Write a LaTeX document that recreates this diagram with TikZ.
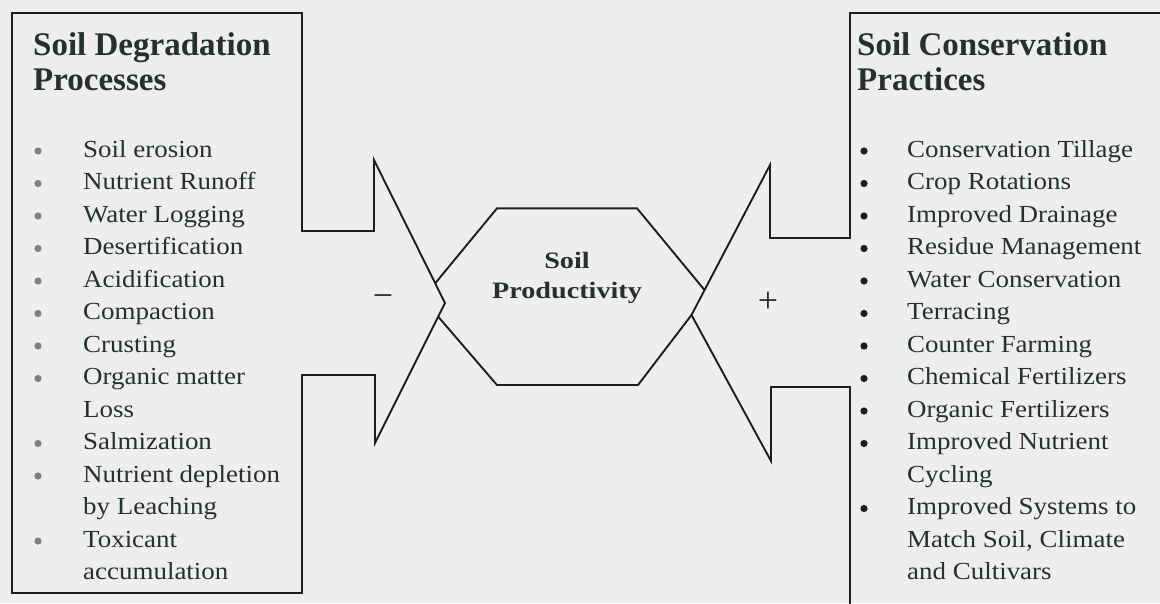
\documentclass[tikz,border=0pt]{standalone}
\usepackage{fontspec}
\setmainfont{Liberation Serif}
\newfontfamily\itemfam[FakeStretch=1.1]{Liberation Serif}
\newfontfamily\centerfam[FakeStretch=1.2]{Liberation Serif}
\definecolor{bgc}{HTML}{EEEEEE}
\definecolor{inkc}{HTML}{1E1E1E}
\definecolor{txtc}{HTML}{263030}
\definecolor{gbul}{HTML}{808080}
\tikzset{
  outline/.style={draw=inkc, line width=1.9pt, line join=miter},
  titletext/.style={anchor=base west, inner sep=0pt, text=txtc, font=\fontsize{33}{36}\selectfont\bfseries},
  itemtext/.style={anchor=base west, inner sep=0pt, text=txtc, font=\itemfam\fontsize{24.5}{28}\selectfont},
  centertext/.style={anchor=base, inner sep=0pt, text=txtc, font=\centerfam\fontsize{23.5}{26}\selectfont\bfseries},
  signtext/.style={inner sep=0pt, text=txtc, font=\fontsize{36}{38}\selectfont},
  lbullet/.style={fill=gbul, draw=none},
  rbullet/.style={fill=inkc, draw=none}
}
\begin{document}
\begin{tikzpicture}[x=1pt,y=-1pt]
\fill[bgc] (0,0) rectangle (1160,603);
\useasboundingbox (0,0) rectangle (1160,603);

% left outline with chevron
\coordinate (l1) at (12,13);
\coordinate (l2) at (302,13);
\coordinate (l3) at (302,231);
\coordinate (l4) at (374,231);
\coordinate (l5) at (374,160);
\coordinate (lp) at (445,303);
\coordinate (l6) at (375,443);
\coordinate (l7) at (375,375);
\coordinate (l8) at (302,375);
\coordinate (l9) at (302,593);
\coordinate (l10) at (12,593);
\draw[outline] (l1)--(l2)--(l3)--(l4)--(l5)--(lp)--(l6)--(l7)--(l8)--(l9)--(l10)--cycle;

% right outline with chevron
\coordinate (r1) at (1165,13);
\coordinate (r2) at (850,13);
\coordinate (r3) at (850,238);
\coordinate (r4) at (770,238);
\coordinate (r5) at (770,165);
\coordinate (rp) at (691.5,315);
\coordinate (r6) at (771,461);
\coordinate (r7) at (771,387);
\coordinate (r8) at (850,387);
\coordinate (r9) at (850,610);
\draw[outline] (r1)--(r2)--(r3)--(r4)--(r5)--(rp)--(r6)--(r7)--(r8)--(r9);

% hexagon
\coordinate (h1) at (497,208.3);
\coordinate (h2) at (637,208.3);
\coordinate (h3) at (704.5,290);
\coordinate (h6) at (435.2,283.3);
\coordinate (h5) at (438.2,316.7);
\coordinate (h7) at (497,385);
\coordinate (h8) at (638,385);
\draw[outline] (h6)--(h1)--(h2)--(h3);
\draw[outline] (h5)--(h7)--(h8)--(rp);

% centre text
\node[centertext] (c1) at (567,268) {Soil};
\node[centertext] (c2) at (567,298) {Productivity};
\node[signtext] (minus) at (383,301) {−};
\node[signtext] (plus) at (768,302) {+};

% titles
\node[titletext] (lt1) at (33,55) {Soil Degradation};
\node[titletext] (lt2) at (33,90) {Processes};
\node[titletext] (rt1) at (857,55) {Soil Conservation};
\node[titletext] (rt2) at (857,90) {Practices};

% left list
\foreach \t [count=\i from 0] in {Soil erosion,Nutrient Runoff,Water Logging,Desertification,Acidification,Compaction,Crusting,Organic matter,Loss,Salmization,Nutrient depletion,by Leaching,Toxicant,accumulation}{
  \node[itemtext] (li\i) at (83,157+32.5*\i) {\t};
}
\foreach \i in {0,1,2,3,4,5,6,7,9,10,12}{
  \fill[lbullet] (38,151+32.5*\i) circle (3.6);
}

% right list
\foreach \t [count=\i from 0] in {Conservation Tillage,Crop Rotations,Improved Drainage,Residue Management,Water Conservation,Terracing,Counter Farming,Chemical Fertilizers,Organic Fertilizers,Improved Nutrient,Cycling,Improved Systems to,{Match Soil, Climate},and Cultivars}{
  \node[itemtext] (ri\i) at (907,157+32.5*\i) {\t};
}
\foreach \i in {0,1,2,3,4,5,6,7,8,9,11}{
  \fill[rbullet] (864,151+32.5*\i) circle (3.6);
}
\end{tikzpicture}
\end{document}
